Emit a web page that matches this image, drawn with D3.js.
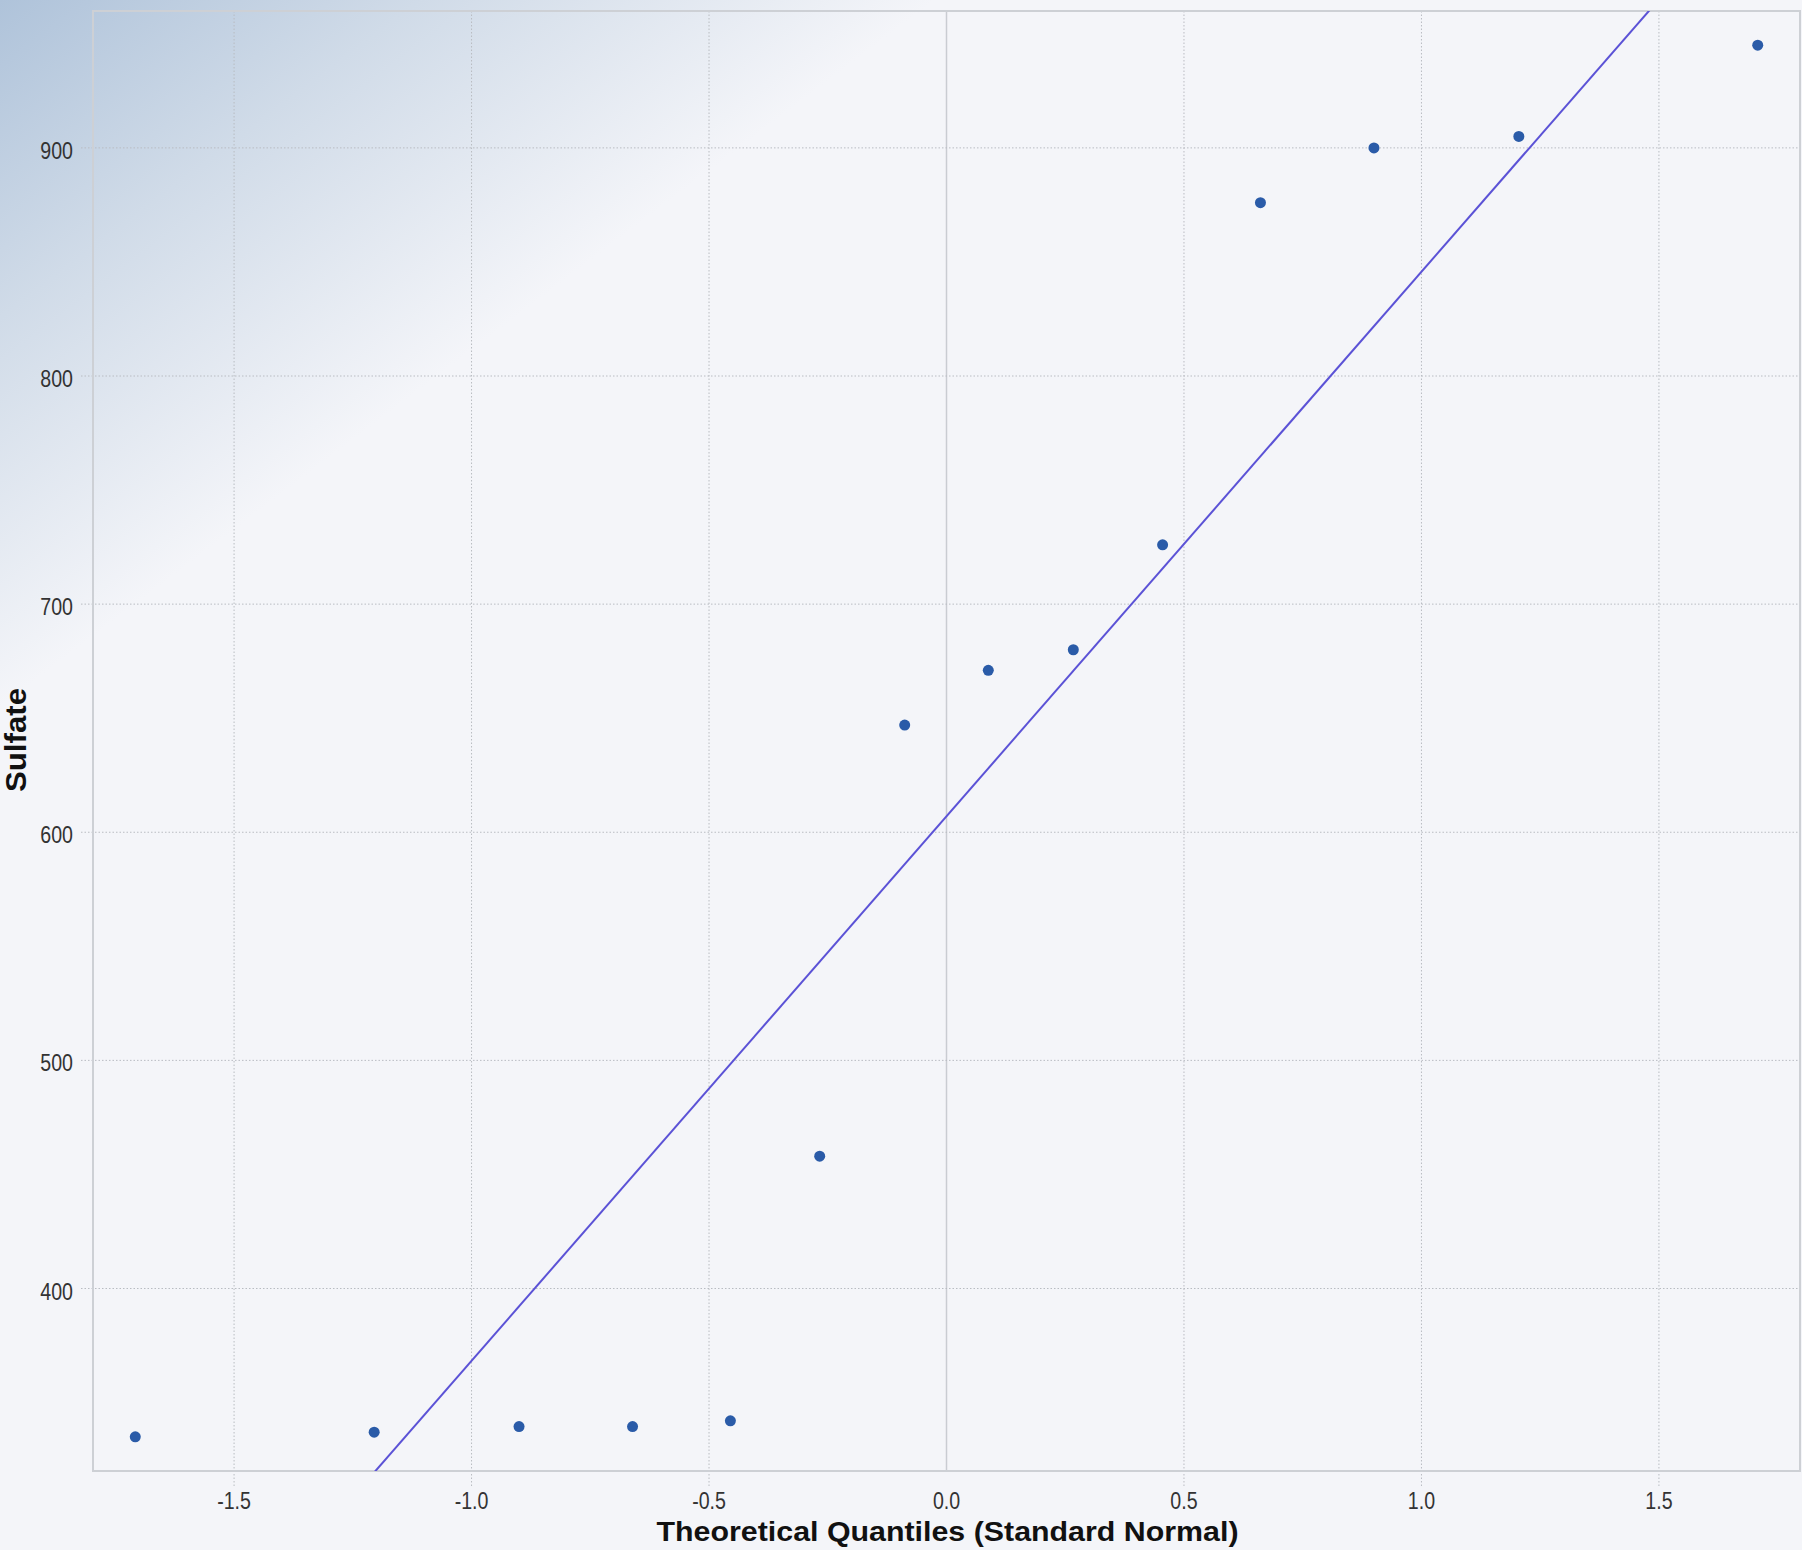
<!DOCTYPE html>
<html>
<head>
<meta charset="utf-8">
<script src="https://cdn.jsdelivr.net/npm/d3@7"></script>
<style>
  body { margin: 0; background: #f4f5f9; }
  #qq { display: block; }
</style>
</head>
<body>
<div id="qq"></div>
<script>

// data
var quantiles = [-1.708, -1.205, -0.900, -0.661, -0.455, -0.267, -0.088,
                 0.088, 0.267, 0.455, 0.661, 0.900, 1.205, 1.708];
var sulfate = [335, 337, 339.5, 339.5, 342, 458, 647,
               671, 680, 726, 876, 900, 905, 945];
var xTicks = [-1.5, -1.0, -0.5, 0.0, 0.5, 1.0, 1.5];
var yTicks = [400, 500, 600, 700, 800, 900];
// reference line: sulfate = lineIntercept + lineSlope * quantile
var lineIntercept = 607;
var lineSlope = 238.7;

// set the dimensions and margins of the graph
var W = 1802, H = 1550;
var margin = {top: 11, right: 2, bottom: 79, left: 93},
    width = W - margin.left - margin.right,
    height = H - margin.top - margin.bottom;

var root = d3.select("#qq")
  .append("svg")
    .attr("width", W)
    .attr("height", H);

// background with the bluish corner
var defs = root.append("defs");
var grad = defs.append("linearGradient")
    .attr("id", "bg")
    .attr("gradientUnits", "userSpaceOnUse")
    .attr("x1", 0).attr("y1", 0)
    .attr("x2", 340).attr("y2", 450);
grad.append("stop").attr("offset", 0).attr("stop-color", "#afc3da");
grad.append("stop").attr("offset", 0.45).attr("stop-color", "#d0dbe8");
grad.append("stop").attr("offset", 1).attr("stop-color", "#f4f5f9");
root.append("rect")
    .attr("width", W).attr("height", H)
    .attr("fill", "url(#bg)");

defs.append("clipPath").attr("id", "plotclip")
  .append("rect")
    .attr("width", width).attr("height", height);

var svg = root.append("g")
    .attr("transform", "translate(" + margin.left + "," + margin.top + ")");

// scales
var x = d3.scaleLinear()
  .domain([-1.797, 1.797])
  .range([0, width]);
var y = d3.scaleLinear()
  .domain([320, 960])
  .range([height, 0]);

// vertical grid (zero line solid)
svg.selectAll(".vgrid")
  .data(xTicks)
  .enter()
  .append("line")
    .attr("x1", function(d) { return x(d); })
    .attr("x2", function(d) { return x(d); })
    .attr("y1", 0)
    .attr("y2", function(d) { return d === 0 ? height : height + 15; })
    .attr("stroke", function(d) { return d === 0 ? "#c9ccd2" : "#b9bcc2"; })
    .attr("stroke-width", function(d) { return d === 0 ? 1.5 : 1; })
    .attr("stroke-dasharray", function(d) { return d === 0 ? null : "1.5,2"; });

// horizontal grid
svg.selectAll(".hgrid")
  .data(yTicks)
  .enter()
  .append("line")
    .attr("x1", -12)
    .attr("x2", width)
    .attr("y1", function(d) { return y(d); })
    .attr("y2", function(d) { return y(d); })
    .attr("stroke", "#b9bcc2")
    .attr("stroke-width", 1)
    .attr("stroke-dasharray", "1.5,2");

// plot frame
svg.append("rect")
    .attr("x", 0).attr("y", 0)
    .attr("width", width).attr("height", height)
    .attr("fill", "none")
    .attr("stroke", "#cdd0d5")
    .attr("stroke-width", 2);

// tick labels (condensed look)
var tickFont = "'Liberation Sans Narrow', 'Liberation Sans', Arial, sans-serif";

svg.selectAll(".xlab")
  .data(xTicks)
  .enter()
  .append("g")
    .attr("transform", function(d) { return "translate(" + x(d) + "," + (height + 38) + ") scale(0.8,1)"; })
  .append("text")
    .attr("text-anchor", "middle")
    .style("font-family", tickFont)
    .style("font-size", "24.5px")
    .attr("fill", "#333")
    .text(function(d) { return d3.format(".1f")(d).replace("−", "-"); });

svg.selectAll(".ylab")
  .data(yTicks)
  .enter()
  .append("g")
    .attr("transform", function(d) { return "translate(-20," + (y(d) + 11) + ") scale(0.8,1)"; })
  .append("text")
    .attr("text-anchor", "end")
    .style("font-family", tickFont)
    .style("font-size", "24.5px")
    .attr("fill", "#333")
    .text(function(d) { return d; });

// reference line
var lineX = x.domain();
svg.append("line")
    .attr("clip-path", "url(#plotclip)")
    .attr("x1", x(lineX[0]))
    .attr("y1", y(lineIntercept + lineSlope * lineX[0]))
    .attr("x2", x(lineX[1]))
    .attr("y2", y(lineIntercept + lineSlope * lineX[1]))
    .attr("stroke", "#5b52d6")
    .attr("stroke-width", 2);

// points
svg.selectAll(".pt")
  .data(quantiles)
  .enter()
  .append("circle")
    .attr("cx", function(d) { return x(d); })
    .attr("cy", function(d, i) { return y(sulfate[i]); })
    .attr("r", 5.5)
    .attr("fill", "#2a5ba8");

// axis titles
svg.append("text")
    .attr("x", x(0) + 1)
    .attr("y", height + 70)
    .attr("text-anchor", "middle")
    .attr("textLength", 582)
    .attr("lengthAdjust", "spacingAndGlyphs")
    .style("font-family", "'Liberation Sans', Arial, sans-serif")
    .style("font-weight", "bold")
    .style("font-size", "27px")
    .attr("fill", "#111")
    .text("Theoretical Quantiles (Standard Normal)");

root.append("text")
    .attr("transform", "translate(26,740) rotate(-90)")
    .attr("text-anchor", "middle")
    .attr("textLength", 104)
    .attr("lengthAdjust", "spacingAndGlyphs")
    .style("font-family", "'Liberation Sans', Arial, sans-serif")
    .style("font-weight", "bold")
    .style("font-size", "30px")
    .attr("fill", "#111")
    .text("Sulfate");

</script>
</body>
</html>
